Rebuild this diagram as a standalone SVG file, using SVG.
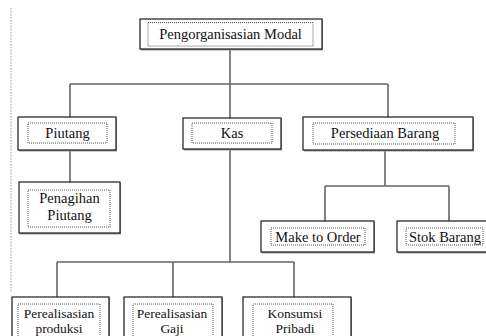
<svg xmlns="http://www.w3.org/2000/svg" width="486" height="336" viewBox="0 0 486 336">
<style>
.sh{fill:#9a9a9a}
.box{fill:#fff;stroke:#1a1a1a;stroke-width:1.2}
.in{fill:none;stroke:#555;stroke-width:1;stroke-dasharray:1 1}
.t{font-family:"Liberation Serif","Times New Roman",serif;font-size:14.5px;fill:#111;text-anchor:middle}
.b{font-size:13.5px}
.c{fill:none;stroke:#666;stroke-width:1.6}
</style>
<rect width="486" height="336" fill="#fff"/>
<line x1="11" y1="8" x2="11" y2="292" stroke="#999" stroke-width="1" stroke-dasharray="1.5 1.5"/>
<g id="connectors">
<path class="c" d="M230 50V118M70 84H388M70 84V117M388 84V117M70 151V182M385 151V186M325 186H449M325 186V221M449 186V221M230 149V262M57 262H294M57 262V297M173 262V297M294 262V297"/>
</g>
<g id="n-top">
<rect class="sh" x="141" y="20" width="182" height="30.5"/>
<rect class="box" x="140" y="19" width="182" height="30"/>
<rect class="in" x="148" y="22.5" width="165" height="23.5"/>
<text class="t" x="230.5" y="39">Pengorganisasian Modal</text>
</g>
<g id="n-piutang">
<rect class="sh" x="19" y="118" width="98" height="33.5"/>
<rect class="box" x="18" y="117" width="98" height="33"/>
<rect class="in" x="28" y="123" width="79" height="20"/>
<text class="t" x="67.5" y="138">Piutang</text>
</g>
<g id="n-kas">
<rect class="sh" x="184" y="119" width="98" height="31.5"/>
<rect class="box" x="183" y="118" width="98" height="31"/>
<rect class="in" x="192" y="123" width="80" height="20"/>
<text class="t" x="232" y="138">Kas</text>
</g>
<g id="n-persediaan">
<rect class="sh" x="304" y="118" width="170" height="33.5"/>
<rect class="box" x="303" y="117" width="170" height="33"/>
<rect class="in" x="313" y="123" width="142" height="21"/>
<text class="t" x="385" y="138">Persediaan Barang</text>
</g>
<g id="n-penagihan">
<rect class="sh" x="20" y="183" width="101" height="51.5"/>
<rect class="box" x="19" y="182" width="101" height="51"/>
<rect class="in" x="28" y="190" width="82" height="37"/>
<text class="t" x="69.5" y="203">Penagihan</text>
<text class="t" x="69.5" y="220">Piutang</text>
</g>
<g id="n-make">
<rect class="sh" x="262" y="222" width="113" height="31.5"/>
<rect class="box" x="261" y="221" width="113" height="31"/>
<rect class="in" x="271" y="228" width="94" height="17"/>
<text class="t" x="318" y="242">Make to Order</text>
</g>
<g id="n-stok">
<rect class="sh" x="398" y="222" width="100" height="31.5"/>
<rect class="box" x="397" y="221" width="100" height="31"/>
<rect class="in" x="406" y="228" width="77" height="17"/>
<text class="t" x="445" y="242">Stok Barang</text>
</g>
<g id="n-produksi">
<rect class="sh" x="13" y="298" width="97" height="50"/>
<rect class="box" x="12" y="297" width="97" height="50"/>
<rect class="in" x="18" y="304" width="82" height="40"/>
<text class="t b" x="59" y="318">Perealisasian</text>
<text class="t b" x="59" y="333">produksi</text>
</g>
<g id="n-gaji">
<rect class="sh" x="125" y="298" width="98" height="50"/>
<rect class="box" x="124" y="297" width="98" height="50"/>
<rect class="in" x="133" y="304" width="80" height="40"/>
<text class="t b" x="172" y="318">Perealisasian</text>
<text class="t b" x="172" y="333">Gaji</text>
</g>
<g id="n-konsumsi">
<rect class="sh" x="244" y="298" width="108" height="50"/>
<rect class="box" x="243" y="297" width="108" height="50"/>
<rect class="in" x="253" y="304" width="80" height="40"/>
<text class="t b" x="295" y="318">Konsumsi</text>
<text class="t b" x="295" y="333">Pribadi</text>
</g>
</svg>
